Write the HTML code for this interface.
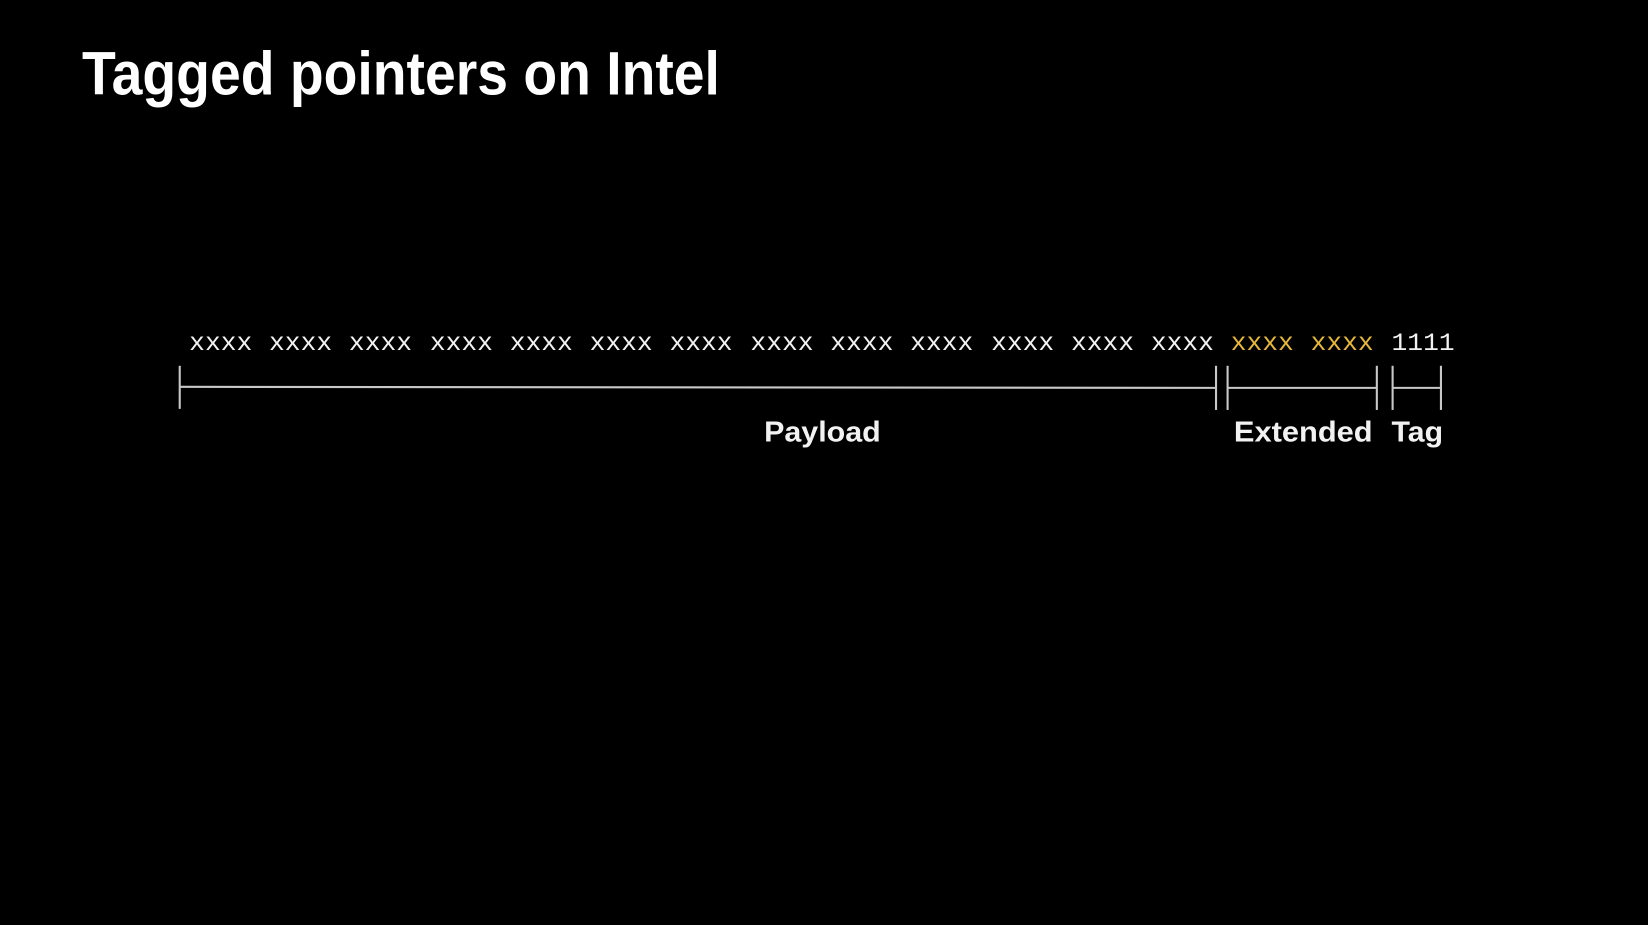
<!DOCTYPE html>
<html><head><meta charset="utf-8"><style>
html,body{margin:0;padding:0;background:#000;width:1648px;height:925px;overflow:hidden}
svg{display:block}
</style></head><body>
<svg width="1648" height="925" viewBox="0 0 1568 880" preserveAspectRatio="none" xmlns="http://www.w3.org/2000/svg">
<rect width="1568" height="880" fill="#000"/>
<text x="78" y="90" font-family="Liberation Sans, sans-serif" font-weight="bold" font-size="58" fill="#fff" textLength="607" lengthAdjust="spacingAndGlyphs">Tagged pointers on Intel</text>
<g font-family="Liberation Mono, monospace" font-size="24" fill="#f2f2f2">
<text x="180" y="333" textLength="60" lengthAdjust="spacingAndGlyphs">xxxx</text>
<text x="256" y="333" textLength="60" lengthAdjust="spacingAndGlyphs">xxxx</text>
<text x="332" y="333" textLength="60" lengthAdjust="spacingAndGlyphs">xxxx</text>
<text x="409" y="333" textLength="60" lengthAdjust="spacingAndGlyphs">xxxx</text>
<text x="485" y="333" textLength="60" lengthAdjust="spacingAndGlyphs">xxxx</text>
<text x="561" y="333" textLength="60" lengthAdjust="spacingAndGlyphs">xxxx</text>
<text x="637" y="333" textLength="60" lengthAdjust="spacingAndGlyphs">xxxx</text>
<text x="714" y="333" textLength="60" lengthAdjust="spacingAndGlyphs">xxxx</text>
<text x="790" y="333" textLength="60" lengthAdjust="spacingAndGlyphs">xxxx</text>
<text x="866" y="333" textLength="60" lengthAdjust="spacingAndGlyphs">xxxx</text>
<text x="943" y="333" textLength="60" lengthAdjust="spacingAndGlyphs">xxxx</text>
<text x="1019" y="333" textLength="60" lengthAdjust="spacingAndGlyphs">xxxx</text>
<text x="1095" y="333" textLength="60" lengthAdjust="spacingAndGlyphs">xxxx</text>
<text x="1171" y="333" textLength="60" lengthAdjust="spacingAndGlyphs" fill="#e6b73a">xxxx</text>
<text x="1247" y="333" textLength="60" lengthAdjust="spacingAndGlyphs" fill="#e6b73a">xxxx</text>
<text x="1324" y="333" textLength="60" lengthAdjust="spacingAndGlyphs">1111</text>
</g>
<g stroke="#c8c8c8" stroke-width="2" fill="none">
<line x1="171" y1="348" x2="171" y2="389"/>
<line x1="171" y1="368" x2="1157" y2="369"/>
<line x1="1157" y1="348" x2="1157" y2="390"/>
<line x1="1168" y1="348" x2="1168" y2="390"/>
<line x1="1168" y1="369" x2="1310" y2="369"/>
<line x1="1310" y1="348" x2="1310" y2="390"/>
<line x1="1325" y1="348" x2="1325" y2="390"/>
<line x1="1325" y1="369" x2="1371" y2="369"/>
<line x1="1371" y1="348" x2="1371" y2="390"/>
</g>
<g font-family="Liberation Sans, sans-serif" font-weight="bold" font-size="27" fill="#f2f2f2">
<text x="727" y="420" textLength="111" lengthAdjust="spacingAndGlyphs">Payload</text>
<text x="1174" y="420" textLength="132" lengthAdjust="spacingAndGlyphs">Extended</text>
<text x="1324" y="420" textLength="49" lengthAdjust="spacingAndGlyphs">Tag</text>
</g>
</svg>
</body></html>
